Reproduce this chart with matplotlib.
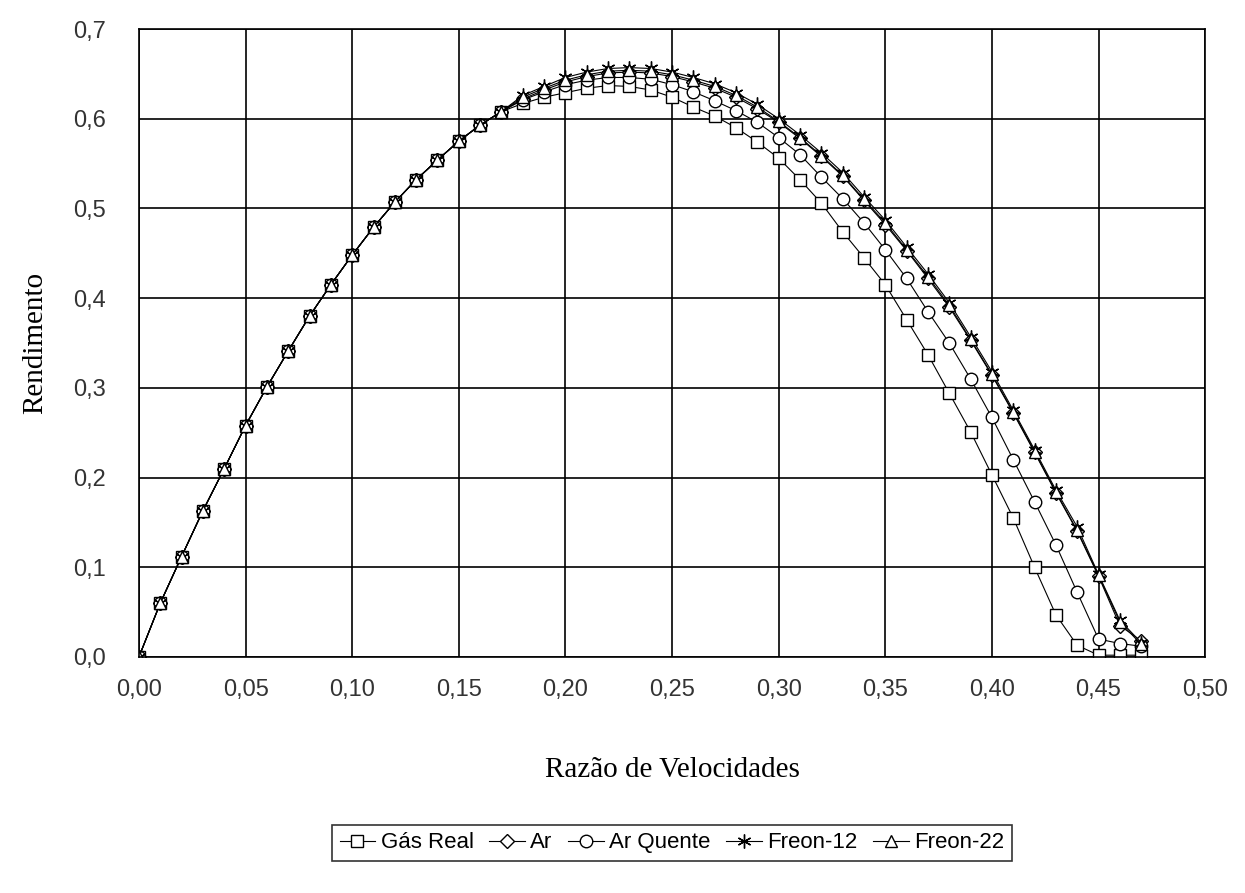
import numpy as np
import matplotlib
matplotlib.use("Agg")
from matplotlib import pyplot as plt

# razao de velocidades
x = [i / 100 for i in range(48)]

# common part of the curves (0,00 .. 0,17)
base = [0.000, 0.060, 0.112, 0.163, 0.210, 0.258, 0.301, 0.341, 0.380, 0.415,
        0.448, 0.479, 0.507, 0.532, 0.554, 0.575, 0.593, 0.608]

gas_real = base + [0.617, 0.624, 0.629, 0.634, 0.637, 0.636, 0.632, 0.624, 0.613, 0.603,
                   0.590, 0.574, 0.556, 0.532, 0.506, 0.474, 0.445, 0.415, 0.376, 0.337,
                   0.294, 0.251, 0.203, 0.155, 0.100, 0.047, 0.013, 0.002, 0.002, 0.002]

ar = base + [0.622, 0.632, 0.641, 0.647, 0.651, 0.652, 0.651, 0.647, 0.641, 0.634,
             0.624, 0.611, 0.596, 0.578, 0.558, 0.536, 0.509, 0.482, 0.453, 0.422,
             0.390, 0.353, 0.314, 0.272, 0.228, 0.183, 0.140, 0.090, 0.035, 0.018]

ar_quente = base + [0.621, 0.630, 0.638, 0.643, 0.646, 0.646, 0.644, 0.638, 0.630, 0.620,
                    0.609, 0.596, 0.579, 0.560, 0.535, 0.511, 0.484, 0.454, 0.422, 0.385,
                    0.350, 0.310, 0.267, 0.220, 0.173, 0.125, 0.072, 0.020, 0.015, 0.012]

freon12 = base + [0.626, 0.636, 0.646, 0.652, 0.656, 0.657, 0.656, 0.652, 0.646, 0.639,
                  0.629, 0.616, 0.600, 0.582, 0.562, 0.540, 0.513, 0.487, 0.457, 0.427,
                  0.395, 0.357, 0.318, 0.275, 0.231, 0.186, 0.145, 0.092, 0.041, 0.016]

freon22 = base + [0.624, 0.634, 0.643, 0.649, 0.653, 0.654, 0.653, 0.649, 0.643, 0.636,
                  0.626, 0.613, 0.597, 0.579, 0.559, 0.537, 0.510, 0.484, 0.454, 0.424,
                  0.392, 0.354, 0.315, 0.273, 0.229, 0.184, 0.141, 0.091, 0.039, 0.014]

asterisk = (6, 2, 0)
series = [("Gás Real", gas_real, "s"), ("Ar", ar, "D"), ("Ar Quente", ar_quente, "o"),
          ("Freon-12", freon12, asterisk), ("Freon-22", freon22, "^")]
sizes = {"s": 9, "D": 7, "o": 9, "^": 9}

xticks = [0.0, 0.05, 0.10, 0.15, 0.20, 0.25, 0.30, 0.35, 0.40, 0.45, 0.50]
xtick_labels = ["0,00", "0,05", "0,10", "0,15", "0,20", "0,25", "0,30", "0,35", "0,40", "0,45", "0,50"]
yticks = [0.0, 0.1, 0.2, 0.3, 0.4, 0.5, 0.6, 0.7]
ytick_labels = ["0,0", "0,1", "0,2", "0,3", "0,4", "0,5", "0,6", "0,7"]

plt.rcParams['font.family'] = ['Liberation Sans', 'DejaVu Sans']

fig = plt.figure(figsize=(12.45, 8.93), dpi=100)
ax = fig.add_axes([0.1116, 0.2643, 0.8564, 0.7032])

for name, y, m in series:
    ax.plot(x, y, color='black', lw=0.8, marker=m, markersize=sizes.get(m, 10),
            markerfacecolor='white', markeredgecolor='black', markeredgewidth=1.0,
            label=name)

ax.set_xlim(0, 0.5)
ax.set_ylim(0, 0.7)
ax.set_xticks(xticks)
ax.set_xticklabels(xtick_labels)
ax.set_yticks(yticks)
ax.set_yticklabels(ytick_labels)
ax.tick_params(length=0, labelsize=17, colors='#333333')
ax.tick_params(axis='x', pad=16)
ax.tick_params(axis='y', pad=24)
ax.grid(True, color='black', lw=1.2)
for s in ax.spines.values():
    s.set_linewidth(1.2)
ax.set_axisbelow(True)

ax.set_xlabel("Razão de Velocidades", family='Liberation Serif', fontsize=21, labelpad=40)
ax.set_ylabel("Rendimento", family='Liberation Serif', fontsize=21, labelpad=18)

leg = ax.legend(loc='center', bbox_to_anchor=(0.5, -0.296), ncol=5, frameon=True,
                fancybox=False, edgecolor='black', fontsize=16, handlelength=1.6,
                handletextpad=0.25, columnspacing=0.7, borderpad=0.35)
leg.get_frame().set_linewidth(1.2)

plt.savefig('out.png', dpi=100)
